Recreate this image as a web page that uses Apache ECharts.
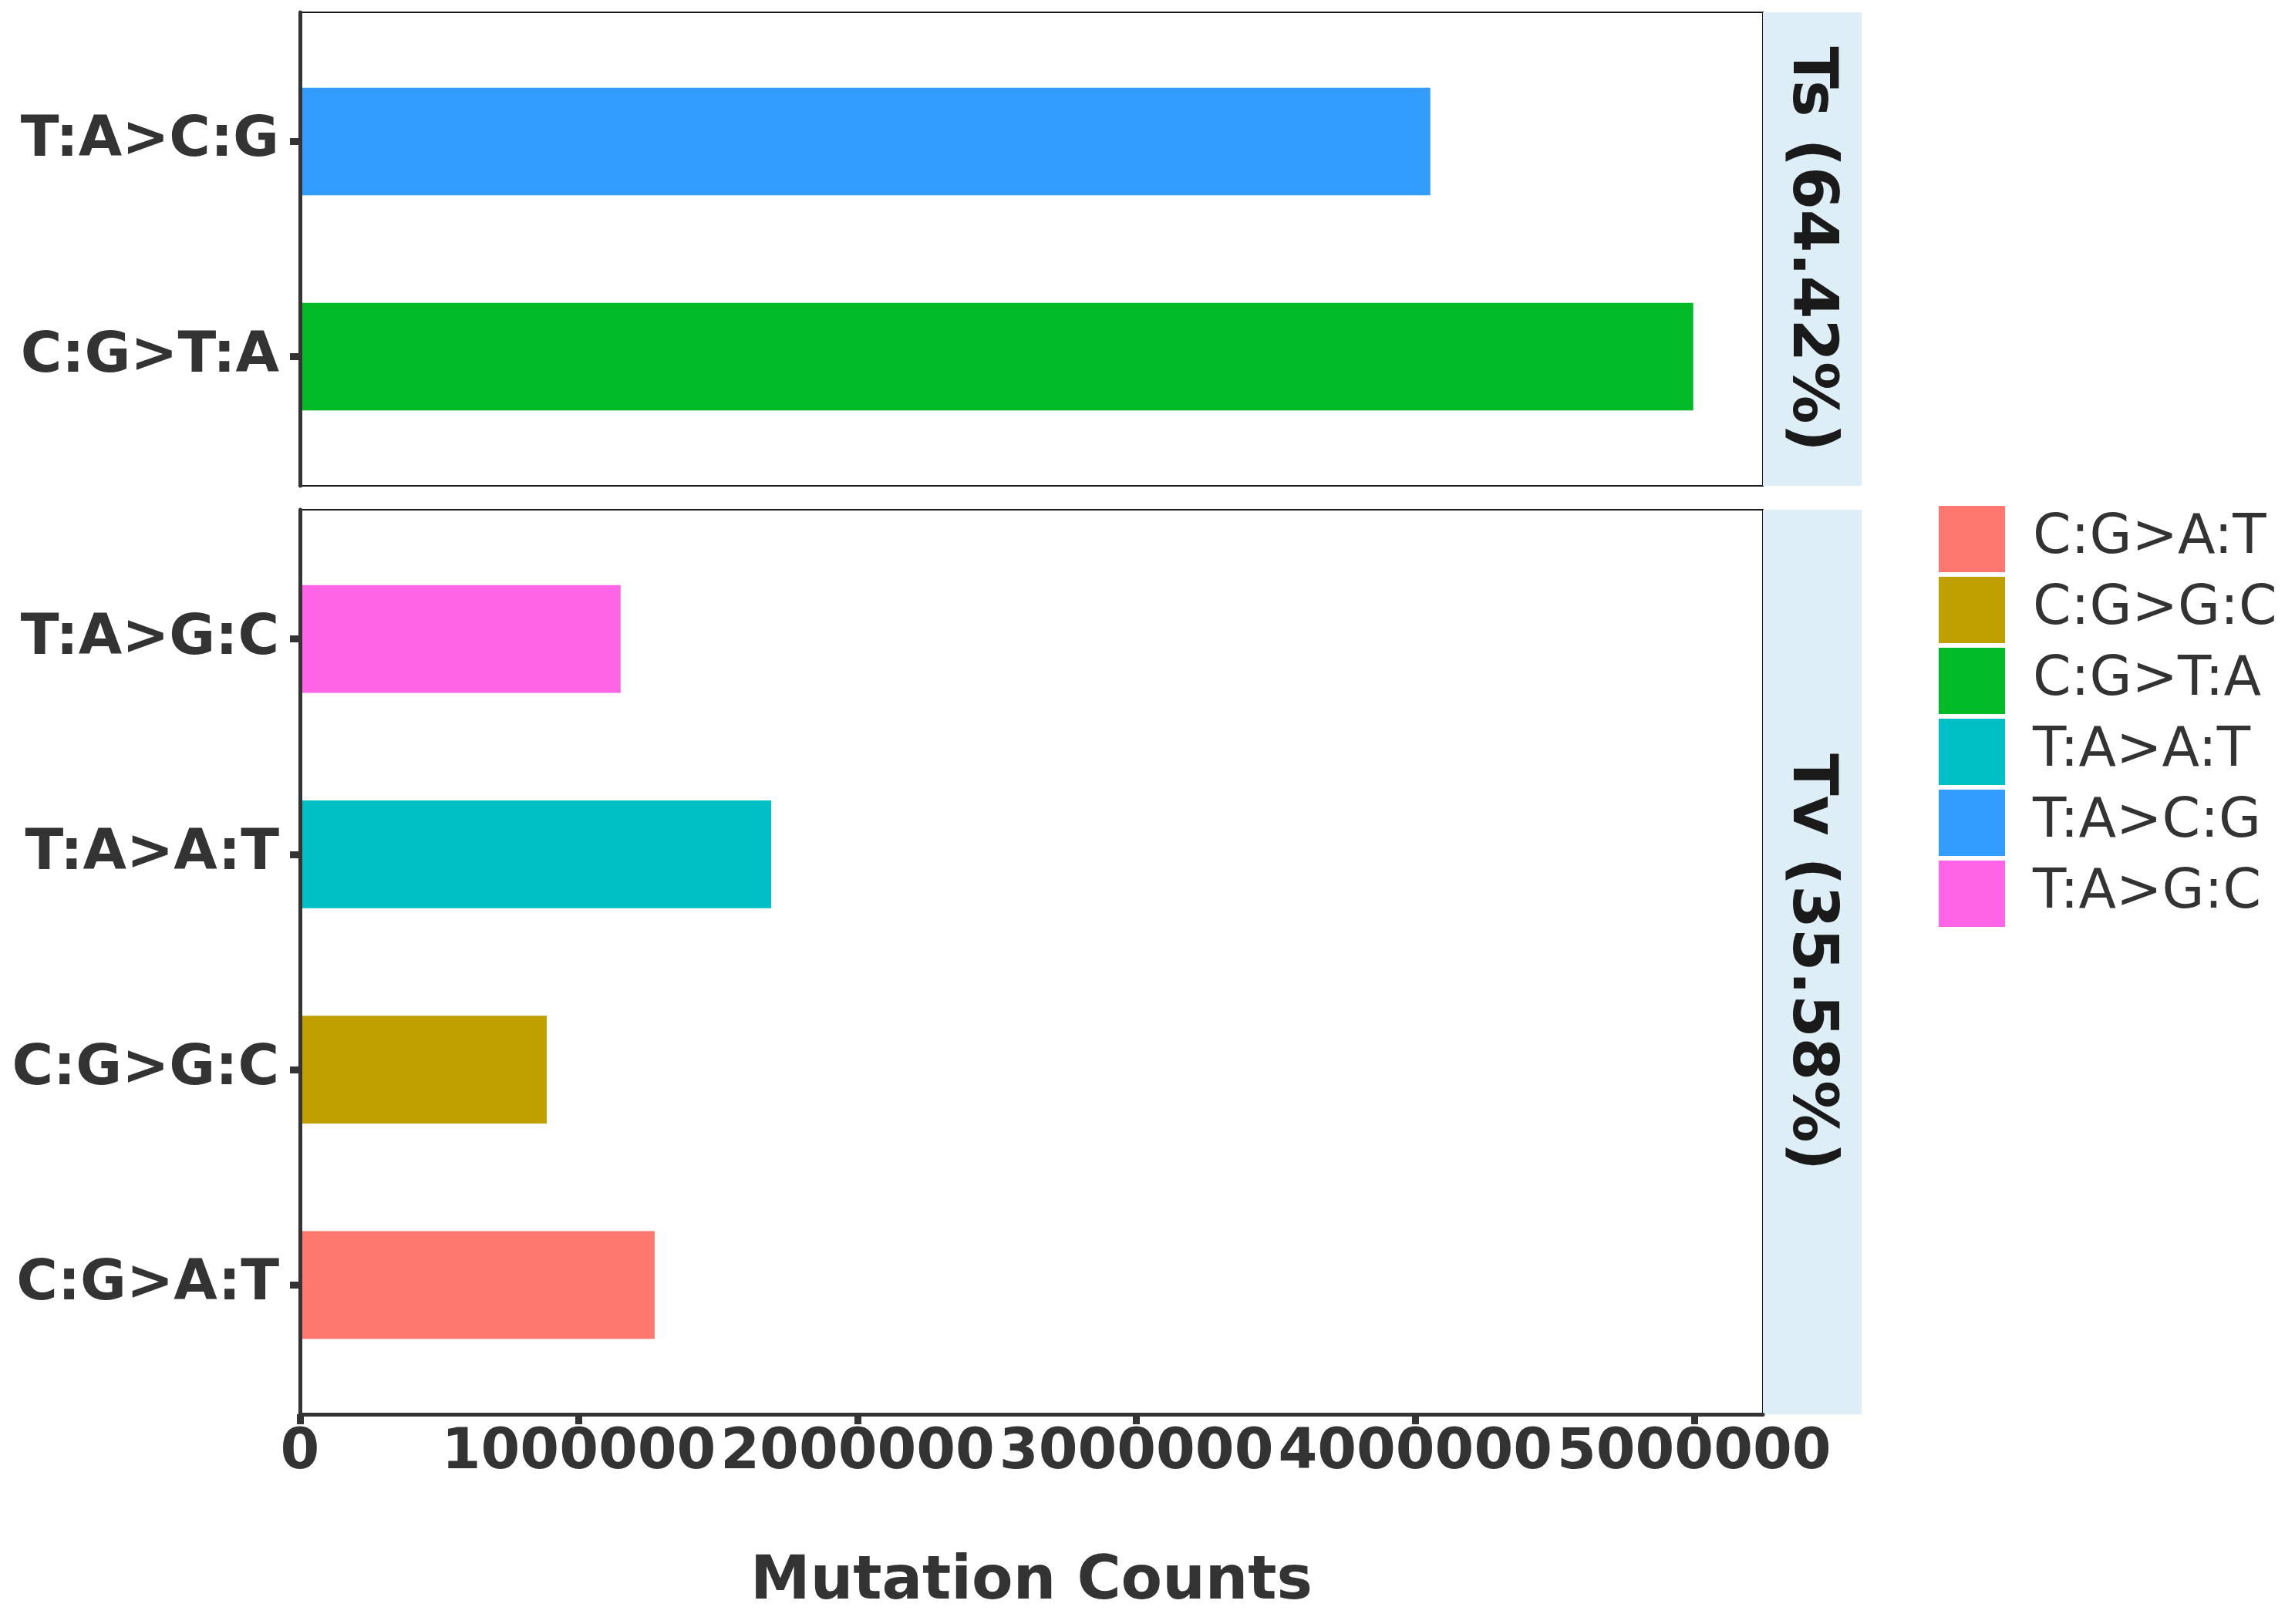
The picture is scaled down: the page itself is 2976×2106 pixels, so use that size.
<!DOCTYPE html>
<html>
<head>
<meta charset="utf-8">
<script src="https://cdn.jsdelivr.net/npm/echarts@6/dist/echarts.min.js"></script>
<style>
html,body{margin:0;padding:0;background:#fff;}
#chart{width:2976px;height:2106px;}
</style>
</head>
<body>
<div id="chart"></div>
<script>
// ---- data ----
var tsCategories = ['C:G>T:A', 'T:A>C:G'];
var tsValues = [4997000, 4054000];
var tvCategories = ['C:G>A:T', 'C:G>G:C', 'T:A>A:T', 'T:A>G:C'];
var tvValues = [1272000, 885000, 1690000, 1150000];
var legendOrder = ['C:G>A:T', 'C:G>G:C', 'C:G>T:A', 'T:A>A:T', 'T:A>C:G', 'T:A>G:C'];
var colorMap = {
  'C:G>A:T': '#FF776E',
  'C:G>G:C': '#C0A000',
  'C:G>T:A': '#00BA26',
  'T:A>A:T': '#00C0C6',
  'T:A>C:G': '#339DFF',
  'T:A>G:C': '#FF65E6'
};
var xTicks = [0, 1000000, 2000000, 3000000, 4000000, 5000000];
var stripLabels = ['Ts (64.42%)', 'Tv (35.58%)'];
var xTitle = 'Mutation Counts';

// ---- layout ----
var FONT = 'DejaVu Sans';
var maxVal = Math.max.apply(null, tsValues.concat(tvValues));
var xMax = maxVal * 1.05;
var panelLeft = 389, panelRight = 2286;
var panelW = panelRight - panelLeft;
var topPanel = {top: 16, bottom: 630};
var botPanel = {top: 661, bottom: 1834};
function inset(p, n) {
  var h = p.bottom - p.top;
  var unit = h / (n - 1 + 1.2);
  return {top: p.top + unit * 0.1, height: unit * n};
}
var tsInset = inset(topPanel, tsCategories.length);
var tvInset = inset(botPanel, tvCategories.length);
var stripLeft = 2286, stripW = 128;

var grids = [
  {left: panelLeft, top: topPanel.top, width: panelW, height: topPanel.bottom - topPanel.top, show: true, borderColor: '#1a1a1a', borderWidth: 2, backgroundColor: '#fff'},
  {left: panelLeft, top: botPanel.top, width: panelW, height: botPanel.bottom - botPanel.top, show: true, borderColor: '#1a1a1a', borderWidth: 2, backgroundColor: '#fff'},
  {left: panelLeft, top: tsInset.top, width: panelW, height: tsInset.height},
  {left: panelLeft, top: tvInset.top, width: panelW, height: tvInset.height},
  {left: stripLeft, top: topPanel.top, width: stripW, height: topPanel.bottom - topPanel.top, show: true, borderWidth: 0, backgroundColor: '#DDEEF6'},
  {left: stripLeft, top: botPanel.top, width: stripW, height: botPanel.bottom - botPanel.top, show: true, borderWidth: 0, backgroundColor: '#DDEEF6'}
];

function hiddenValueAxis(gi, extra) {
  var a = {type: 'value', gridIndex: gi, min: 0, max: xMax, show: false, splitLine: {show: false}};
  return Object.assign(a, extra || {});
}

var xAxes = [
  hiddenValueAxis(0),
  {
    type: 'value', gridIndex: 1, min: 0, max: xMax,
    splitLine: {show: false},
    axisLine: {show: true, lineStyle: {color: '#333', width: 5}},
    axisTick: {show: true, length: 13, lineStyle: {color: '#333', width: 9}, customValues: xTicks},
    axisLabel: {show: true, customValues: xTicks, formatter: function (v) { return String(v); },
      fontFamily: FONT, fontWeight: 'bold', fontSize: 73, color: '#333', margin: 15},
    name: xTitle, nameLocation: 'middle', nameGap: 180,
    nameTextStyle: {fontFamily: FONT, fontWeight: 'bold', fontSize: 78, color: '#333'},
    z: 5
  },
  hiddenValueAxis(2),
  hiddenValueAxis(3),
  hiddenValueAxis(4, {max: 1}),
  hiddenValueAxis(5, {max: 1})
];

function frameYAxis(gi) {
  return {
    type: 'value', gridIndex: gi, min: 0, max: 1,
    splitLine: {show: false}, axisTick: {show: false}, axisLabel: {show: false},
    axisLine: {show: true, lineStyle: {color: '#333', width: 5}}, z: 5
  };
}
function catYAxis(gi, cats) {
  return {
    type: 'category', gridIndex: gi, data: cats,
    axisLine: {show: false},
    axisTick: {show: true, alignWithLabel: true, length: 13, lineStyle: {color: '#333', width: 9}},
    axisLabel: {fontFamily: FONT, fontWeight: 'bold', fontSize: 73, color: '#333', margin: 27},
    splitLine: {show: false}
  };
}
var yAxes = [
  frameYAxis(0),
  frameYAxis(1),
  catYAxis(2, tsCategories),
  catYAxis(3, tvCategories),
  {type: 'value', gridIndex: 4, show: false, splitLine: {show: false}},
  {type: 'value', gridIndex: 5, show: false, splitLine: {show: false}}
];

var series = [];
function addSeries(cats, vals, axisIndex, stackName) {
  cats.forEach(function (name, j) {
    series.push({
      type: 'bar', name: name, xAxisIndex: axisIndex, yAxisIndex: axisIndex,
      stack: stackName, barWidth: '50%',
      itemStyle: {color: colorMap[name]},
      data: cats.map(function (c, i) { return i === j ? vals[j] : '-'; })
    });
  });
}
addSeries(tsCategories, tsValues, 2, 'ts');
addSeries(tvCategories, tvValues, 3, 'tv');

var option = {
  animation: false,
  backgroundColor: '#fff',
  grid: grids,
  xAxis: xAxes,
  yAxis: yAxes,
  legend: {
    data: legendOrder,
    orient: 'vertical',
    left: 2509, top: 651,
    itemWidth: 86, itemHeight: 86, itemGap: 6,
    icon: 'rect',
    textStyle: {fontFamily: FONT, fontSize: 71, color: '#333', padding: [0, 0, 0, 31]}
  },
  graphic: [
    {type: 'text', x: stripLeft + stripW / 2 - 3, y: (topPanel.top + topPanel.bottom) / 2, rotation: -Math.PI / 2,
      style: {text: stripLabels[0], font: 'bold 80px "DejaVu Sans"', fill: '#1a1a1a', textAlign: 'center', textVerticalAlign: 'middle'}, z: 10},
    {type: 'text', x: stripLeft + stripW / 2 - 3, y: (botPanel.top + botPanel.bottom) / 2, rotation: -Math.PI / 2,
      style: {text: stripLabels[1], font: 'bold 80px "DejaVu Sans"', fill: '#1a1a1a', textAlign: 'center', textVerticalAlign: 'middle'}, z: 10}
  ],
  series: series
};

var chart = echarts.init(document.getElementById('chart'), null, {renderer: 'canvas', width: 2976, height: 2106});
chart.setOption(option);
</script>
</body>
</html>
